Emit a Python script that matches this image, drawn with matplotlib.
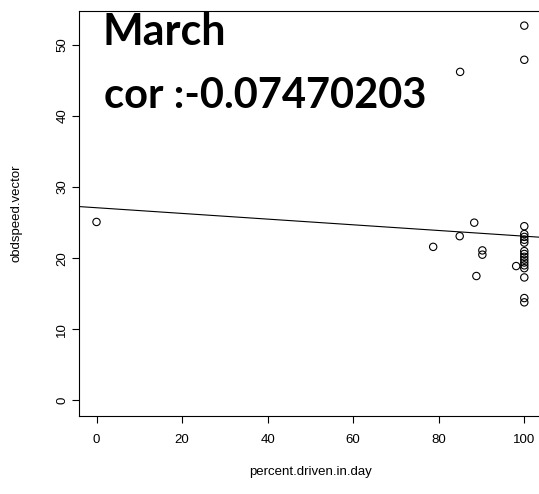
import matplotlib
matplotlib.use('Agg')
import matplotlib.pyplot as plt

# percent driven in day vs obd speed (March)
pct_driven = [0, 78.7, 84.9, 85.0, 88.3, 88.8, 90.2, 90.2, 98.1,
              100, 100, 100, 100, 100, 100, 100, 100, 100,
              100, 100, 100, 100, 100, 100, 100, 100]
obd_speed = [25.1, 21.6, 23.1, 46.2, 25.0, 17.5, 21.1, 20.5, 18.9,
             52.7, 47.9, 24.5, 23.4, 23.0, 22.6, 22.2, 21.0, 20.6,
             20.2, 19.8, 19.4, 19.0, 18.6, 17.3, 14.4, 13.8]
# abline(lm(...))
fit_intercept = 27.1
fit_slope = -0.040
title_month = "March"
cor_value = -0.07470203
x_ticks = [0, 20, 40, 60, 80, 100]
y_ticks = [0, 10, 20, 30, 40, 50]

W, H = 539, 494
fig = plt.figure(figsize=(W / 100, H / 100), dpi=100)
ax = fig.add_axes([79.4 / W, (H - 415.5) / H, (541.4 - 79.4) / W, (415.5 - 10.7) / H])

ax.scatter(pct_driven, obd_speed, s=28, facecolors='none', edgecolors='black', linewidths=0.8)
ax.axline((0, fit_intercept), slope=fit_slope, color='black', linewidth=0.8)

ax.set_xlim(-4, 104)
ax.set_ylim(-2.11, 54.8)
ax.set_xticks(x_ticks)
ax.set_yticks(y_ticks)
ax.tick_params(direction='out', length=5, width=0.8, labelsize=9.5, pad=8)
ax.tick_params(axis='y', pad=3)
for lab in ax.get_yticklabels():
    lab.set_rotation(90)
    lab.set_va('center')
for sp in ax.spines.values():
    sp.set_linewidth(0.8)

fam = ['Liberation Sans', 'DejaVu Sans']
for lab in ax.get_xticklabels() + ax.get_yticklabels():
    lab.set_family(fam)
ax.set_xlabel('percent.driven.in.day', fontsize=9.5, family=fam, labelpad=15)
ax.set_ylabel('obdspeed.vector', fontsize=9.5, family=fam, labelpad=24)

fig.text(103 / W, 1 - 45 / H, title_month, fontsize=31, fontweight='bold',
         family=['Lato', 'DejaVu Sans'], va='baseline', ha='left')
fig.text(104 / W, 1 - 108 / H, "cor :" + str(cor_value), fontsize=30, fontweight='bold',
         family=['Lato', 'DejaVu Sans'], va='baseline', ha='left')

fig.savefig('out.png', dpi=100)
